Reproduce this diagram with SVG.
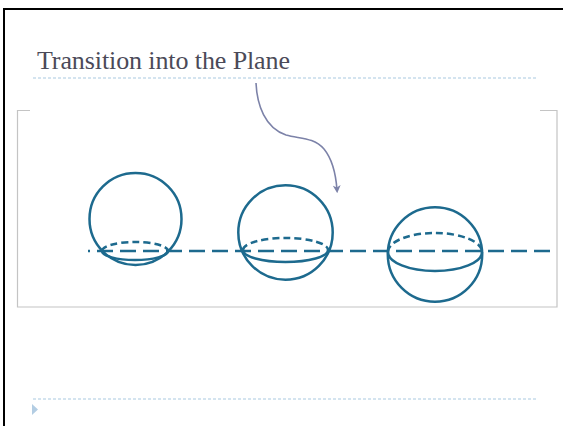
<svg xmlns="http://www.w3.org/2000/svg" width="563" height="426" viewBox="0 0 563 426">
  <defs>
    <style>
      .sphere { fill: none; stroke: #1d6a8e; stroke-width: 2.5; }
      .rim-back { fill: none; stroke: #1d6a8e; stroke-width: 2.5; stroke-dasharray: 7 4; }
      .rule { stroke: #a9c9e0; stroke-width: 1; stroke-dasharray: 3 2; }
      .frame { fill: none; stroke: #c4c4c4; stroke-width: 1.2; }
    </style>
    <marker id="arrowhead" viewBox="0 0 10 10" refX="6" refY="5" markerWidth="5" markerHeight="5" orient="auto">
      <path d="M0,0 L10,5 L0,10 L3,5 Z" fill="#7c82a8"/>
    </marker>
  </defs>

  <rect width="563" height="426" fill="#ffffff"/>

  <!-- slide edge -->
  <path d="M4,426 V9 H563" fill="none" stroke="#000000" stroke-width="2"/>

  <!-- title and rules -->
  <text x="37" y="69" font-family="Liberation Serif, serif" font-size="26" fill="#4b4a58" textLength="253">Transition into the Plane</text>
  <line class="rule" x1="33" y1="78" x2="538" y2="78"/>
  <line class="rule" x1="33" y1="399" x2="538" y2="399"/>
  <path d="M32,404 L38,409.5 L32,415 Z" fill="#b3cde3"/>

  <!-- picture frame -->
  <path class="frame" d="M30,110.5 H17.5 V307 H557 V110.5 H540"/>

  <!-- plane -->
  <g id="plane">
    <line x1="88" y1="251" x2="551" y2="251" stroke="#1d6a8e" stroke-width="2.5" stroke-dasharray="16 7" stroke-dashoffset="14"/>
  </g>

  <!-- sphere resting above the plane -->
  <g id="sphere-1">
    <circle class="sphere" cx="135.5" cy="219" r="46"/>
    <path class="rim-back" d="M102,251 A33,9 0 0 1 168,251"/>
    <path class="sphere" d="M102,251 A33,9 0 0 0 168,251"/>
  </g>

  <!-- sphere partly through the plane -->
  <g id="sphere-2">
    <circle class="sphere" cx="285.5" cy="232.5" r="47.2"/>
    <path class="rim-back" d="M243,250 A42.5,12 0 0 1 328,250"/>
    <path class="sphere" d="M243,250 A42.5,12 0 0 0 328,250"/>
  </g>

  <!-- sphere cut at its equator -->
  <g id="sphere-3">
    <circle class="sphere" cx="435" cy="254.5" r="47.2"/>
    <path class="rim-back" d="M388,252 A47,19 0 0 1 482,252"/>
    <path class="sphere" d="M388,252 A47,19 0 0 0 482,252"/>
  </g>

  <!-- connectors -->
  <g id="connectors">
    <path d="M256,83 C257,105 265,128 286,135 C300,139 313,137 324,149 C333,160 336,176 337,190" fill="none" stroke="#7c82a8" stroke-width="1.6" marker-end="url(#arrowhead)"/>
  </g>
</svg>
